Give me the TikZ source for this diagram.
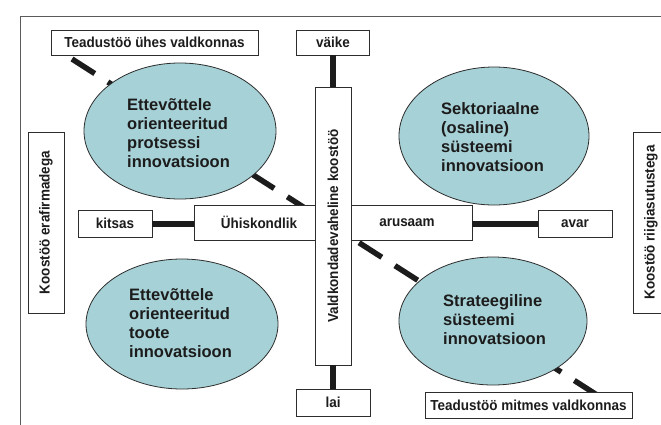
\documentclass[tikz,border=0pt]{standalone}
\usepackage{fontspec}
\setmainfont{Liberation Sans}
\newfontfamily\labfont[FakeStretch=0.93]{Liberation Sans}
\usetikzlibrary{shapes.geometric,calc}
\definecolor{ell}{RGB}{166,209,214}
\definecolor{ink}{RGB}{28,28,28}
\definecolor{edge}{RGB}{45,45,45}
\definecolor{framec}{RGB}{90,90,90}
\begin{document}
\begin{tikzpicture}[x=1pt,y=-1pt,
  box/.style={draw=edge, line width=0.9pt, fill=white, inner sep=0pt,
    font=\labfont\bfseries\fontsize{14.5}{17}\selectfont, text=ink},
  vtext/.style={rotate=90, inner sep=0pt,
    font=\labfont\bfseries\fontsize{14.5}{17}\selectfont, text=ink},
  htext/.style={inner sep=0pt,
    font=\labfont\bfseries\fontsize{14.5}{17}\selectfont, text=ink},
  ellip/.style={ellipse, draw=edge, line width=0.8pt, fill=ell, inner sep=0pt},
  etext/.style={anchor=west, align=left, inner sep=0pt, text=ink,
    font=\bfseries\fontsize{16.5}{19}\selectfont},
  bar/.style={draw=ink, line width=6pt},
  dashline/.style={draw=ink, line width=5.5pt, dash pattern=on 27pt off 15.6pt},
  frameline/.style={draw=framec, line width=1pt}]
\useasboundingbox (0,0) rectangle (661,424);
\clip (0,0) rectangle (661,424);
\fill[white] (0,0) rectangle (661,424);
% outer frame
\draw[frameline] (700,16) -- (20,16) -- (20,450);
% dashed diagonal
\coordinate (d1) at (72,59);
\coordinate (d2) at (597,395);
\draw[dashline] (d1) -- (d2);
% ellipses
\node[ellip, minimum width=192, minimum height=136] (e1) at (180,131) {};
\node[ellip, minimum width=190, minimum height=138] (e2) at (494,136) {};
\node[ellip, minimum width=192, minimum height=130] (e3) at (182,324) {};
\node[ellip, minimum width=188, minimum height=128] (e4) at (493,321) {};
\node[etext] (x1) at ($(e1.center)+(-53,2)$) {Ettevõttele\\orienteeritud\\protsessi\\innovatsioon};
\node[etext] (x2) at ($(e2.center)+(-53,1)$) {Sektoriaalne\\(osaline)\\süsteemi\\innovatsioon};
\node[etext] (x3) at ($(e3.center)+(-53,-1)$) {Ettevõttele\\orienteeritud\\toote\\innovatsioon};
\node[etext] (x4) at ($(e4.center)+(-50,-1)$) {Strateegiline\\süsteemi\\innovatsioon};
% horizontal and vertical central boxes
\node[box, minimum width=278, minimum height=35] (hb) at (333,222.5) {};
\node[htext] (hl) at (259,222.5) {Ühiskondlik};
\node[htext] (hr) at (407,222.5) {arusaam};
\node[box, minimum width=36, minimum height=278] (vb) at (333,226) {};
\node[vtext] (vbt) at (vb.center) {Valdkondadevaheline koostöö};
% side boxes
\node[box, minimum width=36, minimum height=181] (lb) at (46,222.5) {};
\node[vtext] (lbt) at (lb.center) {Koostöö erafirmadega};
\node[box, minimum width=36, minimum height=181] (rb) at (651,222.5) {};
\node[vtext] (rbt) at (rb.center) {Koostöö riigiasutustega};
% small label boxes
\node[box, minimum width=207, minimum height=25] (t1) at (154.5,42.5) {Teadustöö ühes valdkonnas};
\node[box, minimum width=73, minimum height=25] (vk) at (333,42.5) {väike};
\node[box, minimum width=74, minimum height=27] (lai) at (333,402.5) {lai};
\node[box, minimum width=207, minimum height=26] (t2) at (528.5,405) {Teadustöö mitmes valdkonnas};
\node[box, minimum width=74, minimum height=27] (ki) at (115,223.5) {kitsas};
\node[box, minimum width=74, minimum height=27] (av) at (575,223.5) {avar};
% connectors
\draw[bar] (vk.south) -- (vb.north);
\draw[bar] (vb.south) -- (lai.north);
\draw[bar] (ki.east) -- (ki.east -| hb.west);
\draw[bar] (av.west) -- (av.west -| hb.east);
\end{tikzpicture}
\end{document}
